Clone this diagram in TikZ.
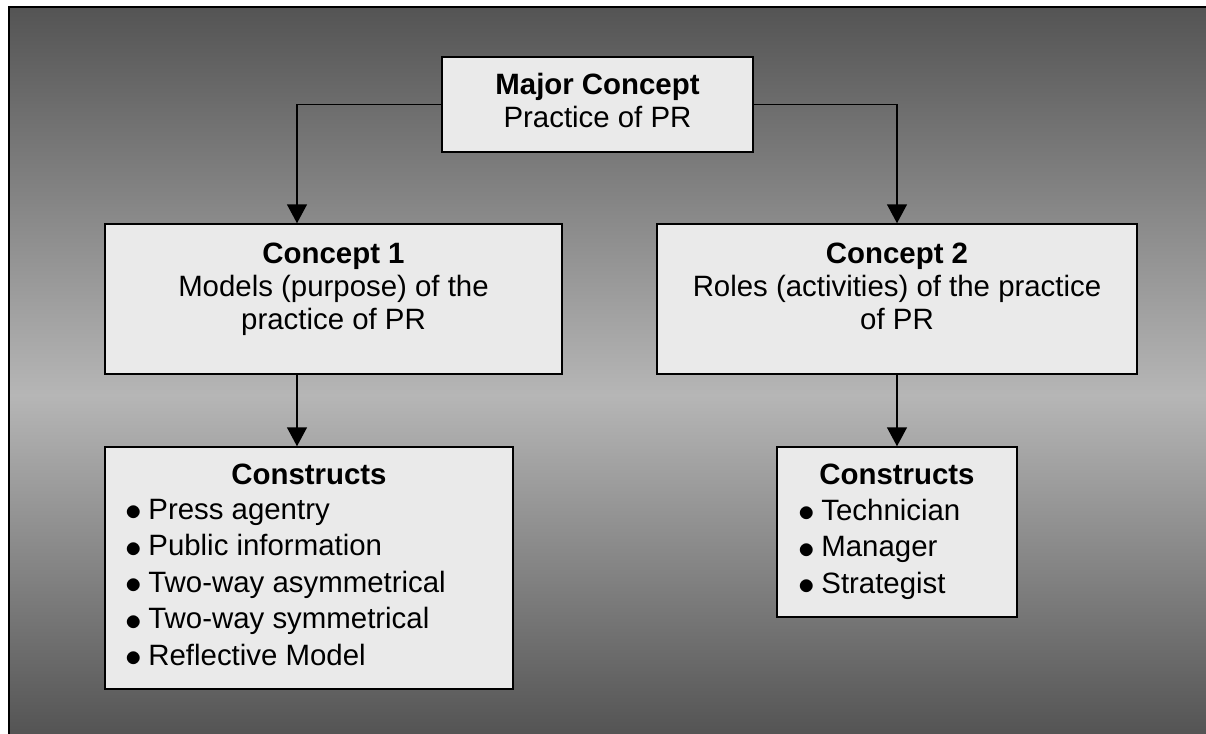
\documentclass[tikz,border=0pt]{standalone}
\usepackage{fontspec}
\setmainfont{Liberation Sans}
\usetikzlibrary{arrows.meta, shadows, calc}

\definecolor{bgdark}{HTML}{545454}
\definecolor{bglight}{HTML}{B6B6B6}
\definecolor{boxfill}{HTML}{EAEAEA}

\newcommand{\itm}{\makebox[11.5pt][l]{\raisebox{-0.8pt}{\scalebox{1.15}{$\bullet$}}}}

\begin{document}
\begin{tikzpicture}[x=0.5pt, y=-0.5pt,
    box/.style={draw, line width=0.75pt, fill=boxfill, inner sep=0pt,
        drop shadow={shadow xshift=0.6pt, shadow yshift=-0.6pt, fill=black!65, opacity=1}},
    txt/.style={inner sep=0pt, anchor=base, font=\fontsize{14.7pt}{16.5pt}\selectfont},
    lst/.style={inner sep=0pt, anchor=base west, font=\fontsize{14.7pt}{18.25pt}\selectfont},
    link/.style={line width=0.75pt, -{Triangle[width=10pt, length=9.5pt]}}]

    % background
    \clip (0,0) rectangle (1206,734);
    \fill[white] (0,0) rectangle (1206,734);
    \shade[top color=bgdark, bottom color=bglight] (9,7) rectangle (1206,395);
    \shade[top color=bglight, bottom color=bgdark] (9,395) rectangle (1206,734);
    \draw[line width=1pt] (9,7) rectangle (1220,750);

    % boxes
    \node[box, minimum width=155.5pt, minimum height=47.5pt] (major) at (597.5,104.5) {};
    \node[box, minimum width=228.5pt, minimum height=75pt] (c1) at (333.5,299) {};
    \node[box, minimum width=240pt, minimum height=75pt] (c2) at (897,299) {};
    \node[box, minimum width=204pt, minimum height=121pt] (k1) at (309,568) {};
    \node[box, minimum width=120pt, minimum height=85pt] (k2) at (897,532) {};

    % texts
    \node[txt] (majt) at (597.5,94) {\begin{tabular}[t]{@{}c@{}}\bfseries Major Concept\\Practice of PR\end{tabular}};
    \node[txt] (c1t) at (333.5,263) {\begin{tabular}[t]{@{}c@{}}\bfseries Concept 1\\Models (purpose) of the\\practice of PR\end{tabular}};
    \node[txt] (c2t) at (897,263) {\begin{tabular}[t]{@{}c@{}}\bfseries Concept 2\\Roles (activities) of the practice\\of PR\end{tabular}};
    \node[txt] (k1t) at (309,484) {\bfseries Constructs};
    \node[lst] (k1l) at (125,519) {\begin{tabular}[t]{@{}l@{}}\itm Press agentry\\\itm Public information\\\itm Two-way asymmetrical\\\itm Two-way symmetrical\\\itm Reflective Model\end{tabular}};
    \node[txt] (k2t) at (897,484) {\bfseries Constructs};
    \node[lst] (k2l) at (798,520) {\begin{tabular}[t]{@{}l@{}}\itm Technician\\\itm Manager\\\itm Strategist\end{tabular}};

    % connectors
    \coordinate (lcol) at (297,0);
    \draw[link] (major.west) -| (c1.north -| lcol);
    \draw[link] (major.east) -| (c2.north);
    \draw[link] (c1.south -| lcol) -- (k1.north -| lcol);
    \draw[link] (c2.south) -- (k2.north);
\end{tikzpicture}
\end{document}
